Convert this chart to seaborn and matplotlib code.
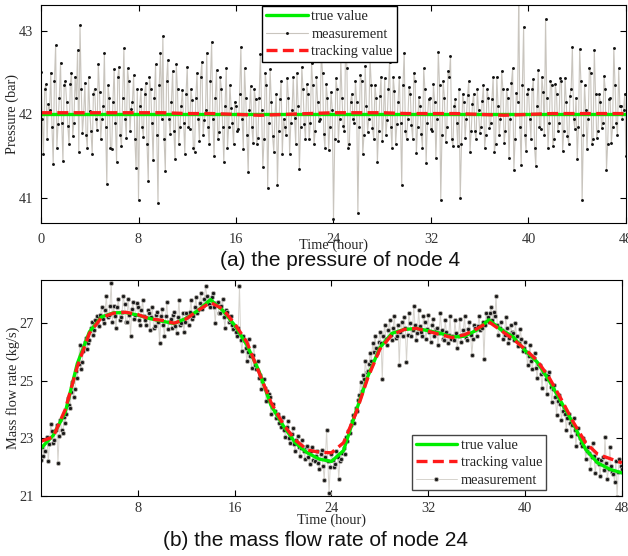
import numpy as np
import matplotlib
matplotlib.use('Agg')
import matplotlib.pyplot as plt
import seaborn as sns

# (a) pressure of node 4, measurement at 0, 0.2, 0.4 ... 48 h
pressure_meas = [
    42.51, 41.52, 42.36, 42.13, 42.50, 41.41, 42.83, 41.88, 42.62, 41.44,
    42.40, 41.86, 42.36, 41.74, 42.45, 42.77, 43.07, 41.78, 42.38, 41.60,
    42.04, 41.53, 42.31, 41.81, 42.27, 41.94, 42.74, 41.17, 42.20, 41.58,
    42.54, 41.43, 42.57, 41.62, 42.79, 41.72, 42.40, 42.07, 42.47, 41.36,
    40.98, 42.30, 41.73, 42.38, 41.20, 42.31, 41.45, 42.60, 40.94, 42.73,
    42.94, 41.32, 42.65, 41.76, 42.52, 41.47, 42.30, 41.85, 42.29, 41.53,
    42.57, 41.82, 42.17, 41.55, 42.50, 41.68, 42.63, 41.93, 42.74, 41.64,
    42.87, 41.50, 42.53, 41.79, 42.31, 41.43, 42.55, 41.85, 42.08, 41.64,
    42.10, 41.83, 42.81, 41.58, 42.20, 41.31, 42.34, 41.66, 42.19, 41.72,
    42.72, 41.37, 42.49, 41.12, 42.54, 41.74, 42.00, 41.16, 42.18, 41.53,
    41.85, 42.44, 41.53, 42.05, 41.96, 42.50, 41.35, 42.57, 41.89, 42.36,
    41.70, 42.61, 41.64, 42.45, 41.92, 42.73, 41.76, 42.37, 41.57, 42.27,
    40.75, 42.43, 41.68, 42.66, 41.86, 42.95, 41.60, 42.15, 41.95, 42.40,
    40.82, 42.47, 41.52, 42.58, 41.79, 42.66, 41.84, 42.35, 41.43, 42.22,
    41.68, 42.43, 41.93, 42.63, 41.60, 42.28, 41.88, 42.45, 41.15, 42.74,
    41.70, 42.33, 41.87, 42.50, 41.54, 42.21, 41.76, 42.55, 41.42, 42.18,
    41.82, 42.36, 41.48, 42.75, 40.97, 42.40, 41.67, 42.52, 42.70, 41.62,
    42.18, 41.62, 41.00, 42.25, 41.72, 42.23, 41.55, 42.12, 41.80, 42.30,
    41.78, 42.16, 41.60, 42.30, 41.84, 42.18, 41.55, 42.45, 41.75, 42.52,
    41.66, 42.30, 41.48, 42.38, 41.34, 42.26, 43.40, 41.40, 43.05, 41.56,
    42.30, 41.71, 42.42, 41.38, 42.53, 41.82, 42.27, 43.14, 41.60, 42.40,
    41.62, 42.36, 41.80, 42.43, 41.56, 42.44, 41.74, 42.22, 42.81, 41.83,
    41.47, 42.78, 40.97, 42.35, 41.58, 42.56, 41.65, 42.77, 41.72, 42.24,
    41.84, 42.46, 41.34, 42.18, 41.66, 42.80, 41.90, 42.55, 42.10, 42.05,
    41.50,
]
# measurement at 0.1, 0.3 ... 47.9 h
pressure_meas_odd = [
    41.95, 42.30, 41.70, 42.05, 41.85, 42.40, 41.60, 42.20, 41.90, 42.35,
    42.15, 41.65, 42.50, 41.90, 42.20, 41.55, 42.30, 42.00, 41.75, 42.45,
    41.80, 42.25, 41.95, 42.60, 41.70, 42.10, 41.85, 42.35, 41.60, 42.15,
    41.90, 42.45, 41.75, 42.20, 41.95, 42.55, 41.80, 42.15, 41.70, 42.30,
    42.10, 41.85, 42.25, 41.65, 42.45, 41.90, 42.20, 41.75, 42.35, 41.95,
    41.70, 42.40, 41.95, 42.15, 41.80, 42.60, 41.65, 42.10, 41.90, 42.25,
    41.85, 42.30, 41.60, 42.20, 41.95, 42.45, 41.75, 42.05, 41.85, 42.40,
    41.95, 42.20, 41.70, 42.45, 41.85, 42.10, 41.60, 42.35, 41.90, 42.15,
    41.80, 42.25, 41.95, 42.55, 41.75, 42.05, 41.85, 42.30, 41.65, 42.20,
    42.05, 41.70, 42.35, 41.90, 42.15, 41.55, 42.25, 41.80, 42.40, 41.95,
    41.75, 42.20, 41.90, 42.45, 41.65, 42.10, 41.85, 42.30, 41.70, 42.25,
    41.90, 42.35, 41.80, 42.15, 41.95, 42.50, 41.60, 42.20, 41.85, 42.05,
    41.70, 42.30, 41.95, 42.20, 41.80, 42.55, 41.65, 42.25, 41.90, 42.15,
    41.85, 42.40, 41.75, 42.10, 41.95, 42.35, 41.70, 42.20, 41.80, 42.45,
    42.00, 41.75, 42.30, 41.85, 42.45, 41.65, 42.15, 41.90, 42.35, 41.80,
    41.95, 42.25, 41.70, 42.40, 41.85, 42.10, 41.60, 42.30, 41.90, 42.20,
    41.80, 42.15, 41.95, 42.35, 41.75, 42.20, 41.85, 42.45, 41.70, 42.10,
    41.90, 42.30, 41.65, 42.15, 41.95, 42.40, 41.80, 42.25, 41.70, 42.05,
    41.85, 42.35, 41.75, 42.20, 41.90, 42.45, 41.65, 42.10, 41.95, 42.30,
    41.80, 42.20, 41.95, 42.55, 41.70, 42.15, 41.85, 42.35, 41.75, 42.25,
    41.95, 42.30, 41.60, 42.10, 41.85, 42.45, 41.75, 42.20, 41.90, 42.35,
    41.70, 42.25, 41.90, 42.40, 41.80, 42.15, 41.65, 42.30, 41.95, 42.20,
    41.85, 42.40, 41.75, 42.05, 41.95, 42.50, 41.70, 42.25, 41.80, 42.15,
    41.90, 42.30, 41.65, 42.20, 41.85, 42.35, 41.75, 42.10, 41.95, 42.25,
]
# true and tracking pressure every 2 h
pressure_true = [42.0] * 25
pressure_track = [42.02, 42.02, 42.02, 42.02, 42.02, 42.02, 42.01, 42.01, 42.00, 41.99,
                  42.00, 42.01, 42.02, 42.02, 42.02, 42.01, 42.01, 42.01, 42.00, 41.99,
                  42.00, 42.01, 42.01, 42.01, 42.01]

# (b) mass flow rate of node 24, true / tracking every 1 h
flow_true = [22.66, 23.10, 23.90, 25.60, 26.70, 27.22, 27.36, 27.37, 27.28, 27.16,
             27.07, 26.99, 27.17, 27.45, 27.82, 27.45, 26.93, 26.25, 25.35, 24.15,
             23.45, 22.85, 22.50, 22.28, 22.20, 22.58, 23.90, 25.15, 26.15, 26.65,
             26.78, 26.82, 26.74, 26.65, 26.52, 26.55, 26.76, 27.12, 26.78, 26.53,
             26.05, 25.65, 25.00, 24.25, 23.50, 22.62, 22.15, 21.93, 21.80]
flow_track = [22.90, 23.05, 24.00, 25.50, 26.65, 27.20, 27.35, 27.38, 27.30, 27.15,
              27.10, 27.00, 27.15, 27.45, 27.72, 27.50, 26.98, 26.35, 25.30, 24.25,
              23.50, 22.95, 22.60, 22.52, 22.50, 22.85, 23.85, 25.10, 26.10, 26.60,
              26.78, 26.82, 26.72, 26.60, 26.50, 26.60, 26.80, 27.05, 26.75, 26.45,
              26.10, 25.70, 25.10, 24.35, 23.55, 22.85, 22.45, 22.30, 22.15]
# measurement at 0, 0.2 ... 48 h
flow_meas = [
    22.25, 22.40, 22.95, 22.20, 23.50, 22.85, 23.30, 22.15, 23.65, 23.20,
    23.55, 24.40, 24.05, 24.95, 24.70, 25.10, 26.25, 25.65, 26.35, 26.10,
    26.40, 27.05, 26.75, 27.25, 26.90, 27.55, 27.00, 27.95, 27.30, 28.40,
    27.60, 26.85, 27.85, 27.20, 27.95, 27.05, 27.85, 26.55, 27.75, 27.30,
    27.55, 26.95, 27.80, 27.10, 27.45, 26.75, 27.55, 26.90, 27.40, 26.30,
    27.50, 26.55, 27.75, 27.05, 26.85, 27.40, 26.65, 27.80, 27.00, 26.70,
    27.35, 26.95, 27.80, 27.25, 27.90, 27.45, 28.05, 27.60, 28.30, 27.75,
    27.55, 28.05, 27.00, 27.75, 27.35, 27.85, 26.85, 27.40, 27.10, 26.95,
    26.90, 26.55, 28.30, 26.05, 26.40, 25.70, 26.45, 25.45, 26.20, 25.40,
    25.10, 24.70, 25.05, 24.30, 24.55, 23.85, 24.20, 23.70, 23.85, 23.40,
    23.75, 23.05, 23.60, 22.85, 23.35, 22.55, 23.10, 22.40, 22.95, 22.30,
    22.75, 22.10, 22.70, 22.20, 22.55, 21.95, 22.60, 21.55, 23.30, 21.10,
    22.45, 22.00, 22.55, 21.60, 22.30, 22.65, 23.05, 23.25, 23.45, 23.80,
    24.05, 24.35, 24.95, 25.20, 25.70, 25.35, 25.95, 26.30, 26.55, 25.95,
    26.70, 25.05, 26.95, 26.25, 27.10, 26.40, 27.25, 26.55, 25.55, 27.05,
    27.20, 25.65, 27.35, 26.55, 27.60, 26.40, 27.45, 26.70, 27.25, 26.45,
    27.30, 26.35, 27.15, 26.80, 26.25, 27.35, 26.45, 27.10, 26.30, 27.25,
    26.55, 27.10, 26.15, 27.15, 26.60, 27.25, 26.40, 27.05, 25.90, 26.95,
    26.55, 27.25, 26.85, 25.75, 27.35, 27.05, 27.55, 27.40, 27.95, 26.60,
    27.05, 26.45, 27.20, 26.30, 26.95, 26.65, 27.00, 26.20, 26.80, 26.05,
    26.35, 25.55, 26.25, 25.40, 25.95, 25.10, 25.55, 24.75, 25.35, 24.55,
    25.30, 24.25, 24.85, 23.80, 24.50, 23.65, 24.10, 23.30, 23.85, 23.10,
    23.70, 22.75, 23.35, 22.85, 23.00, 22.30, 22.70, 21.95, 22.85, 21.80,
    22.30, 21.70, 22.35, 23.05, 21.60, 22.70, 21.85, 21.50, 20.95, 22.30,
    21.95,
]
# measurement at 0.1, 0.3 ... 47.9 h
flow_meas_odd = [
    22.70, 22.55, 23.05, 22.80, 23.25, 22.95, 23.45, 23.10, 23.30, 23.75,
    23.85, 24.15, 24.60, 24.45, 25.35, 25.60, 25.40, 26.05, 26.50, 26.30,
    26.85, 26.60, 27.10, 26.95, 27.30, 27.15, 27.45, 27.20, 27.60, 27.05,
    27.25, 27.55, 27.10, 27.40, 27.65, 27.05, 27.30, 27.50, 27.15, 27.70,
    27.10, 27.45, 27.25, 26.95, 27.35, 27.20, 26.85, 27.30, 27.05, 27.25,
    26.95, 27.25, 26.80, 27.15, 27.30, 26.90, 27.20, 26.95, 27.35, 27.05,
    27.20, 27.40, 27.15, 27.55, 27.35, 27.70, 27.50, 27.85, 27.95, 27.65,
    27.90, 27.55, 27.70, 27.35, 27.60, 27.20, 27.45, 27.05, 27.25, 26.80,
    26.70, 26.85, 26.40, 26.55, 26.15, 26.00, 25.85, 25.90, 25.55, 25.70,
    25.20, 25.00, 24.75, 24.65, 24.45, 24.10, 23.95, 23.80, 23.55, 23.70,
    23.30, 23.40, 23.00, 23.15, 22.80, 22.95, 22.70, 22.65, 22.55, 22.70,
    22.35, 22.55, 22.25, 22.40, 22.15, 22.45, 22.05, 22.35, 22.20, 22.00,
    22.25, 22.10, 22.35, 22.20, 22.50, 22.45, 22.90, 23.20, 23.60, 23.55,
    23.95, 24.50, 24.65, 25.05, 25.30, 25.60, 25.70, 26.00, 26.15, 26.35,
    26.30, 26.55, 26.45, 26.75, 26.60, 26.85, 26.50, 26.95, 26.70, 26.55,
    26.85, 26.60, 27.00, 26.75, 26.95, 26.65, 26.90, 26.55, 27.05, 26.80,
    26.70, 26.95, 26.55, 26.85, 26.65, 26.75, 26.40, 26.70, 26.60, 26.45,
    26.40, 26.65, 26.55, 26.35, 26.75, 26.50, 26.80, 26.60, 26.45, 26.85,
    26.90, 26.75, 27.05, 26.95, 27.20, 27.35, 27.10, 27.25, 26.95, 26.85,
    26.75, 26.60, 26.85, 26.50, 26.70, 26.40, 26.55, 26.30, 26.45, 26.15,
    26.00, 25.85, 25.70, 25.80, 25.45, 25.60, 25.25, 25.30, 25.05, 25.20,
    24.80, 24.70, 24.45, 24.30, 24.20, 23.95, 23.85, 23.70, 23.55, 23.45,
    23.30, 23.15, 23.00, 22.75, 22.90, 22.55, 22.50, 22.35, 22.40, 22.20,
    22.10, 22.25, 21.90, 22.15, 21.95, 22.05, 21.75, 22.20, 21.85, 22.05,
]

t_even = np.linspace(0, 48, len(pressure_meas))
t_odd = np.linspace(0.1, 47.9, len(pressure_meas_odd))
t_meas = np.concatenate([t_even, t_odd])
t_2h = np.linspace(0, 48, len(pressure_track))
t_1h = np.linspace(0, 48, len(flow_true))

sns.set_style('ticks')
plt.rcParams['font.family'] = ['Liberation Serif', 'DejaVu Serif']
plt.rcParams['axes.linewidth'] = 0.8

fig = plt.figure(figsize=(6.28, 5.56), dpi=100)
ax1 = fig.add_axes([0.0653, 0.599, 0.9315, 0.392])
ax2 = fig.add_axes([0.0653, 0.1079, 0.925, 0.3885])

GREEN = '#00ee00'
RED = '#ff1a1a'

# ---- (a) pressure
sns.lineplot(x=t_meas, y=pressure_meas + pressure_meas_odd, ax=ax1, color='#c9c5be',
             lw=0.8, marker='o', markersize=2.1, markerfacecolor='#111111',
             markeredgecolor='#111111', markeredgewidth=0, label='measurement')
sns.lineplot(x=t_2h, y=pressure_true, ax=ax1, color=GREEN, lw=2.4, label='true value')
sns.lineplot(x=t_2h, y=pressure_track, ax=ax1, color=RED, lw=2.4,
             linestyle=(0, (3.3, 1.6)), label='tracking value')
ax1.set_xlim(0, 48)
ax1.set_ylim(40.7, 43.31)
ax1.set_xticks(range(0, 49, 8))
ax1.set_yticks([41, 42, 43])
ax1.set_ylabel('Pressure (bar)', fontsize=10.4, labelpad=-0.5)
ax1.set_xlabel('Time (hour)', fontsize=10.4, labelpad=-5)
h, l = ax1.get_legend_handles_labels()
order = [l.index('true value'), l.index('measurement'), l.index('tracking value')]
ax1.legend([h[i] for i in order], [l[i] for i in order], loc='upper center',
           bbox_to_anchor=(0.493, 1.0), borderaxespad=0.1, fontsize=10.4,
           fancybox=False, framealpha=1, edgecolor='black', handlelength=2.9,
           handletextpad=0.25, labelspacing=0.3, borderpad=0.25, numpoints=1)

# ---- (b) mass flow
sns.lineplot(x=t_meas, y=flow_meas + flow_meas_odd, ax=ax2, color='#d6d3cd', lw=0.7,
             marker='o', markersize=3.0, markerfacecolor='#1a1a1a',
             markeredgecolor='#bdbab4', markeredgewidth=0.6, label='measurement')
sns.lineplot(x=t_1h, y=flow_true, ax=ax2, color=GREEN, lw=2.4, label='true value')
sns.lineplot(x=t_1h, y=flow_track, ax=ax2, color=RED, lw=2.4,
             linestyle=(0, (3.3, 1.6)), label='tracking value')
ax2.set_xlim(0, 48)
ax2.set_ylim(21, 28.5)
ax2.set_xticks(range(8, 49, 8))
ax2.set_yticks([21, 23, 25, 27])
ax2.set_ylabel('Mass flow rate (kg/s)', fontsize=10.4, labelpad=-0.5)
ax2.set_xlabel('Time (hour)', fontsize=10.4, labelpad=-1)
h, l = ax2.get_legend_handles_labels()
order = [l.index('true value'), l.index('tracking value'), l.index('measurement')]
ax2.legend([h[i] for i in order], [l[i] for i in order], loc='lower center',
           bbox_to_anchor=(0.754, 0.02), borderaxespad=0.1, fontsize=10.4,
           fancybox=False, framealpha=1, edgecolor='#444444', handlelength=2.9,
           handletextpad=0.25, labelspacing=0.3, borderpad=0.25, numpoints=1)

for ax in (ax1, ax2):
    for s in ax.spines.values():
        s.set_visible(True)
        s.set_color('black')
    ax.tick_params(direction='in', length=4.5, width=0.8, labelsize=10.4,
                   top=True, right=True, colors='black', labelcolor='#333333')
ax1.tick_params(axis='x', pad=7)
ax1.tick_params(axis='y', pad=6)
ax2.tick_params(axis='x', pad=4)
ax2.tick_params(axis='y', pad=5)

fig.text(0.541, 1 - 261 / 556, '(a) the pressure of node 4', ha='center', va='center',
         fontsize=15, family='Liberation Sans', color='#111111')
fig.text(0.503, 1 - 541 / 556, '(b) the mass flow rate of node 24', ha='center',
         va='center', fontsize=15, family='Liberation Sans', color='#111111')

fig.savefig('out.png', dpi=100)
